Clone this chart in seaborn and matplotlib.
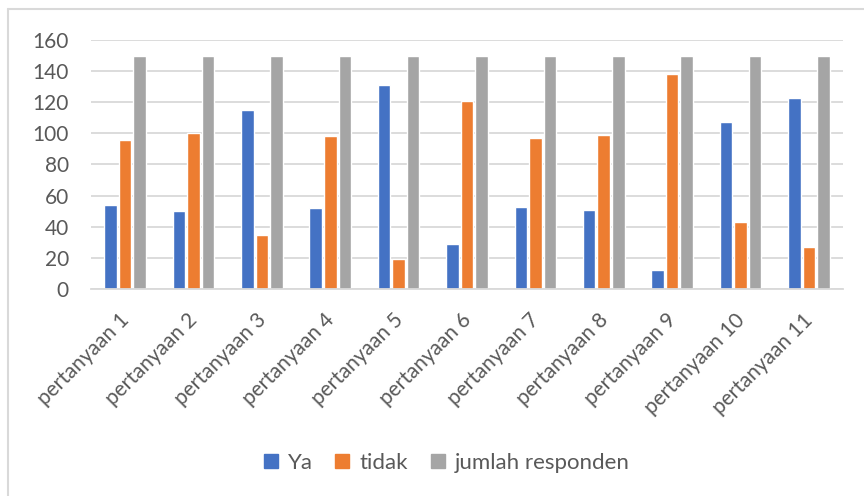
import matplotlib
matplotlib.use("Agg")
import matplotlib.pyplot as plt
from matplotlib.lines import Line2D
import matplotlib.transforms as mtransforms
import seaborn as sns
import pandas as pd

categories = [f"pertanyaan {i}" for i in range(1, 12)]
ya = [54, 50, 115, 52, 131, 29, 53, 51, 12, 107, 123]
tidak = [96, 100, 35, 98, 19, 121, 97, 99, 138, 43, 27]
jumlah = [150, 150, 150, 150, 150, 150, 150, 150, 150, 150, 150]
series_names = ["Ya", "tidak", "jumlah responden"]
colors = ["#4472C4", "#ED7D31", "#A5A5A5"]

df = pd.DataFrame({
    "kategori": categories * 3,
    "nilai": ya + tidak + jumlah,
    "seri": [series_names[0]] * 11 + [series_names[1]] * 11 + [series_names[2]] * 11,
})

sns.set_theme(style="white")
plt.rcParams["font.family"] = ["Lato", "DejaVu Sans"]
text_color = "#595959"

fig = plt.figure(figsize=(8.64, 4.96), dpi=100)
ax = fig.add_axes([91 / 864, 1 - 289 / 496, (843 - 91) / 864, (289 - 40) / 496])

sns.barplot(data=df, x="kategori", y="nilai", hue="seri", palette=colors,
            width=0.64, gap=0.14, saturation=1, ax=ax, legend=False)

ax.set_ylim(0, 160)
ax.set_yticks(range(0, 161, 20))
ax.set_xlim(-0.5, 10.5)
ax.yaxis.grid(True, color="#D9D9D9", linewidth=1.3)
ax.set_axisbelow(True)
for side in ["top", "right", "left"]:
    ax.spines[side].set_visible(False)
ax.spines["bottom"].set_color("#D9D9D9")
ax.spines["bottom"].set_linewidth(1.3)
ax.set_xlabel("")
ax.set_ylabel("")
ax.tick_params(axis="both", length=0, colors=text_color, labelsize=15)
ax.tick_params(axis="y", pad=16)
ax.tick_params(axis="x", pad=15)
shift = mtransforms.ScaledTranslation(-6 / 100, 0, fig.dpi_scale_trans)
for lbl in ax.get_xticklabels():
    lbl.set_rotation(45)
    lbl.set_ha("right")
    lbl.set_rotation_mode("anchor")
    lbl.set_transform(lbl.get_transform() + shift)

handles = [Line2D([0], [0], marker="s", linestyle="none", markersize=10,
                  markerfacecolor=c, markeredgecolor=c) for c in colors]
fig.legend(handles, series_names, loc="center", bbox_to_anchor=(445 / 864, 1 - 463 / 496),
           ncol=3, frameon=False, fontsize=16, labelcolor=text_color,
           handletextpad=0.3, columnspacing=0.9, handlelength=0.9)

# chart area border
fig.add_artist(Line2D([8 / 864, 8 / 864], [0, 1 - 9 / 496], color="#D9D9D9", linewidth=1.5,
                      transform=fig.transFigure))
fig.add_artist(Line2D([8 / 864, 1], [1 - 9 / 496, 1 - 9 / 496], color="#D9D9D9", linewidth=1.5,
                      transform=fig.transFigure))

fig.savefig("out.png", dpi=100)
